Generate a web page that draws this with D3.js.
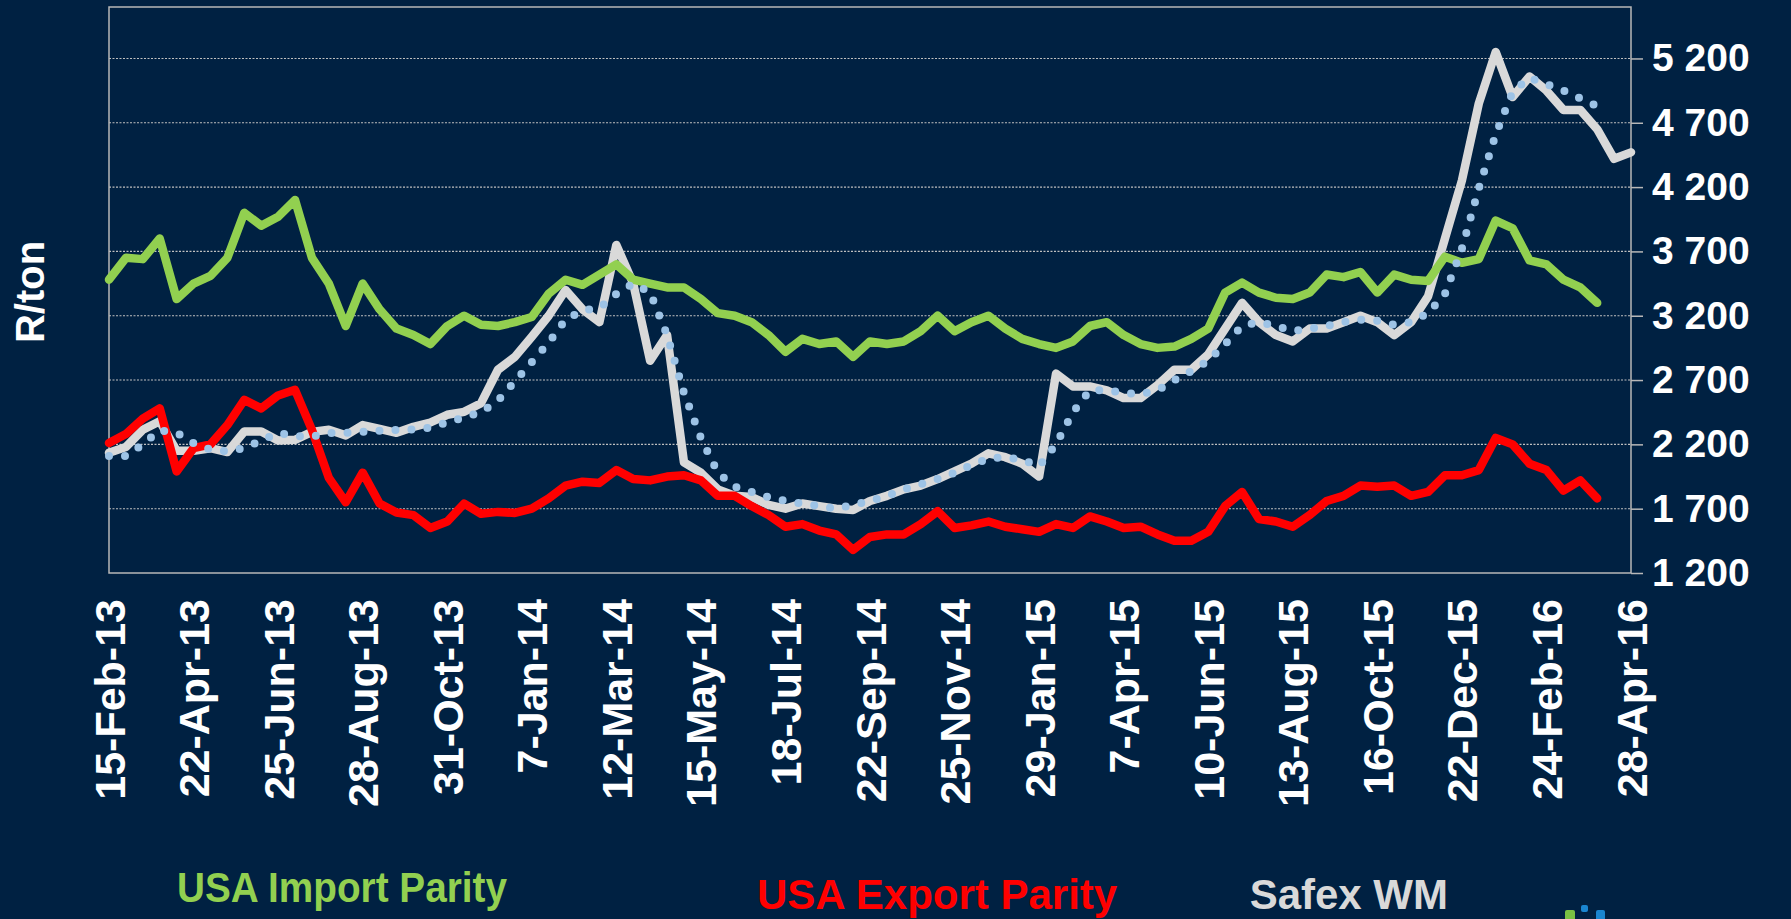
<!DOCTYPE html>
<html>
<head>
<meta charset="utf-8">
<script src="https://cdn.jsdelivr.net/npm/d3@7"></script>
<style>
  html, body { margin: 0; padding: 0; background: #002142; overflow: hidden; }
  text { font-family: "Liberation Sans", Arial, sans-serif; font-weight: bold; }
</style>
</head>
<body>
<div class="canvas"></div>
<script>
// category labels, one every 45 trading days
const dateLabels = ['15-Feb-13', '22-Apr-13', '25-Jun-13', '28-Aug-13', '31-Oct-13', '7-Jan-14',
    '12-Mar-14', '15-May-14', '18-Jul-14', '22-Sep-14', '25-Nov-14', '29-Jan-15', '7-Apr-15',
    '10-Jun-15', '13-Aug-15', '16-Oct-15', '22-Dec-15', '24-Feb-16', '28-Apr-16'];
const labelEvery = 45;
// readings below are taken every 9 trading days
const step = 9;

const yTicks = [1200, 1700, 2200, 2700, 3200, 3700, 4200, 4700, 5200];

const importParity = [3480, 3650, 3640, 3800, 3330, 3450, 3510, 3650, 4000, 3900,
    3970, 4100, 3650, 3450, 3120, 3450, 3250, 3100, 3050, 2980,
    3120, 3200, 3130, 3120, 3150, 3190, 3370, 3480, 3440, 3520,
    3600, 3480, 3450, 3420, 3420, 3330, 3220, 3200, 3150, 3050,
    2920, 3020, 2980, 3000, 2880, 3000, 2980, 3000, 3080, 3200,
    3080, 3150, 3200, 3100, 3020, 2980, 2950, 3000, 3120, 3150,
    3050, 2980, 2950, 2960, 3020, 3100, 3380, 3457, 3380, 3340,
    3330, 3380, 3520, 3500, 3540, 3380, 3520, 3480, 3470, 3659,
    3612, 3640, 3940, 3880, 3630, 3600, 3480, 3420, 3300];

const exportParity = [2211, 2280, 2400, 2480, 1990, 2170, 2200, 2350, 2546, 2480,
    2580, 2624, 2313, 1940, 1750, 1980, 1740, 1670, 1650, 1550,
    1600, 1740, 1660, 1675, 1667, 1700, 1780, 1880, 1910, 1900,
    2000, 1930, 1920, 1950, 1960, 1920, 1800, 1800, 1720, 1650,
    1560, 1580, 1530, 1500, 1380, 1480, 1500, 1500, 1580, 1680,
    1550, 1570, 1600, 1560, 1540, 1520, 1580, 1550, 1640, 1600,
    1550, 1560, 1500, 1450, 1450, 1520, 1720, 1830, 1620, 1600,
    1560, 1650, 1760, 1800, 1880, 1870, 1880, 1800, 1830, 1960,
    1960, 2000, 2250, 2200, 2050, 2000, 1840, 1920, 1780];

const safexWM = [2134, 2180, 2313, 2380, 2150, 2150, 2170, 2140, 2300, 2300,
    2230, 2235, 2297, 2313, 2270, 2350, 2320, 2290, 2336, 2370,
    2430, 2453, 2520, 2780, 2880, 3037, 3200, 3400, 3250, 3150,
    3750, 3450, 2850, 3050, 2060, 1980, 1850, 1800, 1790, 1730,
    1700, 1740, 1720, 1700, 1690, 1760, 1800, 1850, 1880, 1930,
    1990, 2050, 2130, 2100, 2050, 1950, 2750, 2650, 2650, 2620,
    2560, 2560, 2660, 2780, 2780, 2900, 3100, 3300, 3150, 3050,
    3000, 3100, 3100, 3150, 3200, 3150, 3050, 3150, 3350, 3800,
    4250, 4850, 5250, 4900, 5060, 4950, 4800, 4800, 4650, 4420,
    4470];

// moving average of Safex WM (dotted)
const safexAvg = [2110, 2110, 2200, 2310, 2290, 2210, 2160, 2145, 2170, 2230,
    2290, 2265, 2260, 2289, 2290, 2297, 2305, 2313, 2315, 2330,
    2370, 2410, 2450, 2540, 2690, 2840, 2990, 3170, 3240, 3260,
    3370, 3450, 3380, 3050, 2600, 2250, 1980, 1870, 1830, 1790,
    1760, 1740, 1720, 1700, 1730, 1760, 1800, 1850, 1890, 1930,
    1980, 2040, 2090, 2100, 2080, 2030, 2200, 2450, 2620, 2620,
    2600, 2590, 2620, 2700, 2770, 2850, 2980, 3120, 3150, 3120,
    3080, 3100, 3120, 3150, 3170, 3160, 3130, 3150, 3220, 3370,
    3720, 4190, 4610, 4940, 5050, 5000, 4950, 4890, 4830];

const seriesNames = ['USA Import Parity', 'USA Export Parity', 'Safex WM'];

// margins
const width = 1791, height = 919;
const margin = {top: 7, right: 160, bottom: 346, left: 109};
const graphWidth = width - margin.left - margin.right;
const graphHeight = height - margin.top - margin.bottom;

// main svg
const svg = d3.select('.canvas').append('svg')
    .attr('width', width)
    .attr('height', height)
    .style('display', 'block');

svg.append('rect')
    .attr('width', width)
    .attr('height', height)
    .attr('fill', '#002142');

// graph wrapper
const graph = svg.append('g')
    .attr('transform', `translate(${margin.left}, ${margin.top})`);

// scales
const x = d3.scaleLinear()
    .domain([0, (dateLabels.length - 1) * labelEvery])
    .range([0, graphWidth]);
const y = d3.scaleLinear()
    .domain([1200, 5600])
    .range([graphHeight, 0]);

// dotted gridlines
graph.append('g')
    .selectAll('line')
    .data(yTicks.slice(1))
    .enter().append('line')
    .attr('x1', 0)
    .attr('x2', graphWidth)
    .attr('y1', d => y(d))
    .attr('y2', d => y(d))
    .attr('stroke', '#c0c0c0')
    .attr('stroke-width', 1.1)
    .attr('stroke-dasharray', '2 1.5');

// plot frame
graph.append('rect')
    .attr('width', graphWidth)
    .attr('height', graphHeight)
    .attr('fill', 'none')
    .attr('stroke', '#b8b8b8')
    .attr('stroke-width', 1.5);

// axes
const spaceFormat = d3.formatLocale({decimal: '.', thousands: ' ', grouping: [3], currency: ['', '']}).format(',');

const yAxisGroup = graph.append('g')
    .attr('transform', `translate(${graphWidth}, 0)`);
yAxisGroup.call(d3.axisRight(y).tickValues(yTicks).tickSize(12).tickPadding(9).tickFormat(spaceFormat));
yAxisGroup.select('.domain').remove();
yAxisGroup.selectAll('line').attr('stroke', '#b8b8b8').attr('stroke-width', 1.5);
yAxisGroup.selectAll('text')
    .attr('fill', '#ffffff')
    .style('font-size', '39px')
    .style('font-family', '"Liberation Sans", Arial, sans-serif');

const xAxisGroup = graph.append('g')
    .attr('transform', `translate(0, ${graphHeight})`);
xAxisGroup.call(d3.axisBottom(x)
    .tickValues(dateLabels.map((d, i) => i * labelEvery))
    .tickSize(0)
    .tickFormat((d, i) => dateLabels[i]));
xAxisGroup.select('.domain').remove();
xAxisGroup.selectAll('text')
    .attr('transform', 'rotate(-90)')
    .attr('text-anchor', 'end')
    .attr('x', -26)
    .attr('y', 0)
    .attr('dy', '0.35em')
    .attr('fill', '#ffffff')
    .style('font-size', '43px')
    .style('font-family', '"Liberation Sans", Arial, sans-serif');

// line generator
const line = d3.line()
    .x((d, i) => x(i * step))
    .y(d => y(d));

const drawLine = (values, colour) => graph.append('path')
    .attr('d', line(values))
    .attr('fill', 'none')
    .attr('stroke', colour)
    .attr('stroke-width', 8.5)
    .attr('stroke-linejoin', 'round')
    .attr('stroke-linecap', 'round');

drawLine(safexWM, '#d9d9d9');
drawLine(importParity, '#92d050');
drawLine(exportParity, '#ff0000');

graph.append('path')
    .attr('d', line(safexAvg))
    .attr('fill', 'none')
    .attr('stroke', '#9dc3e6')
    .attr('stroke-width', 8)
    .attr('stroke-linecap', 'round')
    .attr('stroke-dasharray', '0 16');

// y axis title
svg.append('text')
    .attr('transform', 'translate(44, 292) rotate(-90)')
    .attr('text-anchor', 'middle')
    .attr('fill', '#ffffff')
    .style('font-size', '40px')
    .text('R/ton');

// legend text
const legendColours = ['#92d050', '#ff0000', '#d9d9d9'];
const legendPos = [[177, 902, 'start'], [757, 909, 'start'], [1448, 909, 'end']];
svg.append('g')
    .selectAll('text')
    .data(seriesNames)
    .enter().append('text')
    .attr('x', (d, i) => legendPos[i][0])
    .attr('y', (d, i) => legendPos[i][1])
    .attr('text-anchor', (d, i) => legendPos[i][2])
    .attr('fill', (d, i) => legendColours[i])
    .style('font-size', '42px')
    .text(d => d);

// the first legend entry is set narrower in the original
svg.selectAll('g text').filter(d => d === seriesNames[0])
    .attr('textLength', 330)
    .attr('lengthAdjust', 'spacingAndGlyphs');

// logo squares peeking in at the bottom edge
const logo = svg.append('g');
logo.append('rect').attr('x', 1565).attr('y', 910).attr('width', 10).attr('height', 12).attr('rx', 2).attr('fill', '#7ac143');
logo.append('rect').attr('x', 1581).attr('y', 905).attr('width', 7).attr('height', 7).attr('rx', 2).attr('fill', '#1a86d0');
logo.append('rect').attr('x', 1596).attr('y', 910).attr('width', 9).attr('height', 12).attr('rx', 2).attr('fill', '#1a86d0');
</script>
</body>
</html>
